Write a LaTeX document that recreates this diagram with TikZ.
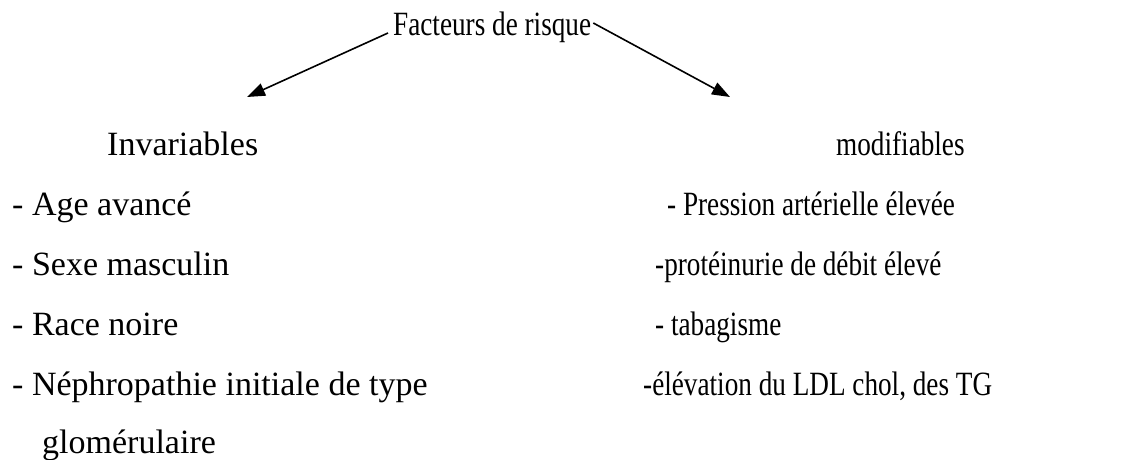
\documentclass[tikz,border=0pt]{standalone}
\usepackage{fontspec}
\setmainfont{Liberation Serif}
\usetikzlibrary{arrows.meta}
\newcommand{\narrow}[1]{\scalebox{0.8}[1]{#1}}

\begin{document}
\begin{tikzpicture}[x=1pt,y=1pt,
  every node/.style={inner sep=0pt, anchor=base west, font=\fontsize{34}{40}\selectfont},
  fleche/.style={line width=1.6pt, -{Triangle[length=18pt,width=13pt]}}]
\useasboundingbox (0,0) rectangle (1138,-459);
% titre
\node (fr) at (393,-35) {\narrow{Facteurs de risque}};
\coordinate (ginv) at (247,-97);
\coordinate (gmod) at (730,-97);
\draw[fleche] ([shift={(-5,2)}]fr.base west) -- (ginv);
\draw[fleche] ([shift={(2,12)}]fr.base east) -- (gmod);
% colonne gauche
\node (inv) at (107,-155) {Invariables};
\node (age) at (12,-215) {- Age avancé};
\node (sexe) at (12,-275) {- Sexe masculin};
\node (race) at (12,-335) {- Race noire};
\node (nephro) at (12,-395) {- Néphropathie initiale de type};
\node (glom) at (42,-453) {glomérulaire};
% colonne droite
\node (mod) at (836,-155) {\narrow{modifiables}};
\node (pa) at (667,-215) {\narrow{- Pression artérielle élevée}};
\node (prot) at (655,-275) {\narrow{-protéinurie de débit élevé}};
\node (tabac) at (655,-335) {\narrow{- tabagisme}};
\node (ldl) at (643,-395) {\narrow{-élévation du LDL chol, des TG}};
\end{tikzpicture}
\end{document}
